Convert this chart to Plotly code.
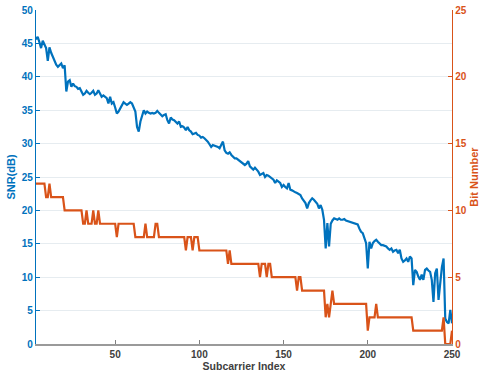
import numpy as np
import plotly.graph_objects as go

# Subcarrier indices shown on the horizontal axis
subcarrier = list(range(3, 251))

# Measured SNR per subcarrier (dB), subcarriers 3..250
snr_db = [
    45.6, 46.0, 45.2, 44.3, 45.4, 44.8, 44.3, 42.4, 44.4, 43.6,   # 3-12
    43.0, 42.4, 41.8, 41.5, 41.8, 42.0, 41.3, 41.7, 37.8, 39.3,   # 13-22
    39.5, 38.5, 39.0, 38.6, 38.5, 38.2, 38.3, 37.8, 37.3, 37.5,   # 23-32
    37.9, 37.6, 37.4, 37.6, 37.9, 37.3, 37.5, 38.0, 37.4, 37.0,   # 33-42
    37.2, 37.0, 36.8, 36.0, 37.0, 36.0, 36.2, 35.4, 34.5, 34.8,   # 43-52
    35.3, 35.8, 36.2, 36.0, 35.8, 36.0, 36.2, 36.0, 35.3, 34.8,   # 53-62
    32.5, 31.8, 33.3, 34.2, 35.0, 34.5, 34.8, 34.6, 34.5, 34.6,   # 63-72
    34.5, 34.6, 34.9, 34.6, 34.3, 34.1, 34.3, 34.4, 33.5, 33.0,   # 73-82
    33.9, 33.6, 33.5, 33.2, 33.0, 33.3, 32.5, 32.6, 32.4, 32.0,   # 83-92
    32.5, 32.0, 31.8, 31.4, 31.5, 31.6, 31.3, 31.2, 30.9, 31.0,   # 93-102
    30.8, 30.6, 30.3, 29.9, 29.5, 29.8, 29.7, 29.7, 29.5, 29.3,   # 103-112
    29.8, 30.3, 29.0, 28.6, 28.5, 28.7, 28.3, 28.1, 27.8, 27.8,   # 113-122
    27.6, 27.5, 27.3, 27.0, 26.8, 27.0, 27.4, 26.6, 26.3, 26.1,   # 123-132
    26.4, 26.1, 25.8, 25.3, 25.5, 25.6, 25.0, 25.3, 25.2, 25.0,   # 133-142
    24.7, 24.6, 24.1, 24.5, 24.3, 24.1, 23.5, 23.8, 23.5, 23.3,   # 143-152
    24.1, 23.1, 23.0, 22.8, 22.7, 22.6, 22.5, 22.3, 21.8, 21.5,   # 153-162
    21.1, 20.3, 21.1, 21.5, 21.8, 21.6, 21.3, 21.0, 20.3, 20.8,   # 163-172
    20.1, 18.6, 14.3, 18.1, 14.6, 18.0, 18.5, 18.8, 18.7, 18.6,   # 173-182
    18.8, 18.6, 18.6, 18.7, 18.5, 18.4, 18.3, 18.3, 18.1, 18.0,   # 183-192
    18.0, 17.9, 17.3, 16.8, 16.6, 15.8, 15.1, 11.3, 15.3, 14.3,   # 193-202
    15.1, 15.4, 15.6, 15.3, 15.0, 14.8, 14.8, 14.7, 14.6, 14.3,   # 203-212
    14.1, 14.3, 13.8, 14.0, 14.1, 13.6, 14.1, 12.8, 12.3, 12.5,   # 213-222
    12.8, 12.3, 13.1, 12.8, 8.8, 11.1, 10.8, 10.1, 9.6, 10.4,     # 223-232
    9.6, 11.1, 11.3, 11.0, 10.8, 9.6, 6.3, 10.6, 11.3, 6.6,       # 233-242
    9.6, 11.5, 12.8, 3.8, 3.3, 3.1, 5.1, 3.1,                     # 243-250
]

# Bit loading: subcarrier at which the allocation changes, and the new value
bit_change_at = [3, 9, 11, 12, 20, 31, 33, 34, 37, 38, 40, 41, 51, 52,
                 62, 68, 69, 74, 76, 92, 93, 96, 97, 100, 117, 118, 119,
                 136, 137, 140, 141, 143, 158, 159, 161, 175, 176, 177,
                 178, 179, 180, 200, 201, 205, 206, 227, 245, 246, 250]
bit_value = [12, 11, 12, 11, 10, 9, 10, 9, 10, 9, 10, 9, 8, 9,
             8, 9, 8, 9, 8, 7, 8, 7, 8, 7, 6, 7, 6,
             5, 6, 5, 6, 5, 4, 5, 4, 2, 3, 2,
             3, 4, 3, 1, 2, 3, 2, 1, 2, 0, 1]

# Expand the change list into one value per subcarrier
pos = np.searchsorted(bit_change_at, subcarrier, side="right") - 1
bits = [bit_value[i] for i in pos]

BLUE = "#0072BD"
ORANGE = "#D95319"
FONT = "Liberation Sans, Arial, sans-serif"

fig = go.Figure()
fig.add_trace(go.Scatter(x=subcarrier, y=snr_db, mode="lines",
                         line=dict(color=BLUE, width=2.2), yaxis="y"))
fig.add_trace(go.Scatter(x=subcarrier, y=bits, mode="lines",
                         line=dict(color=ORANGE, width=2.2), yaxis="y2"))

fig.update_layout(
    width=480, height=378,
    margin=dict(l=36, r=28, t=10, b=34, autoexpand=False),
    paper_bgcolor="white", plot_bgcolor="white",
    showlegend=False,
    font=dict(family=FONT),
    xaxis=dict(
        range=[3, 250], tickvals=[50, 100, 150, 200, 250],
        ticks="inside", ticklen=4, tickcolor="#808080",
        showline=True, linecolor="#9a9a9a", linewidth=1.5,
        showgrid=False, zeroline=False, automargin=False,
        tickfont=dict(size=10, color="#404040", weight="bold"),
        title=dict(text="Subcarrier Index", standoff=3,
                   font=dict(size=10.5, color="#404040", weight="bold")),
    ),
    yaxis=dict(
        range=[0, 50], dtick=5,
        ticks="inside", ticklen=4, tickcolor=BLUE,
        showline=True, linecolor=BLUE, linewidth=1.3,
        showgrid=True, gridcolor="#e6ecf0", gridwidth=1,
        zeroline=False, automargin=False,
        tickfont=dict(size=10, color=BLUE, weight="bold"),
        title=dict(text="SNR(dB)", standoff=3,
                   font=dict(size=11, color=BLUE, weight="bold")),
    ),
    yaxis2=dict(
        range=[0, 25], dtick=5, overlaying="y", side="right",
        ticks="inside", ticklen=4, tickcolor=ORANGE,
        showline=True, linecolor=ORANGE, linewidth=1.3,
        showgrid=False, zeroline=False, automargin=False,
        tickfont=dict(size=10, color=ORANGE, weight="bold"),
        title=dict(text="Bit Number", standoff=8,
                   font=dict(size=11, color=ORANGE, weight="bold")),
    ),
)

fig.write_html("out.html")
